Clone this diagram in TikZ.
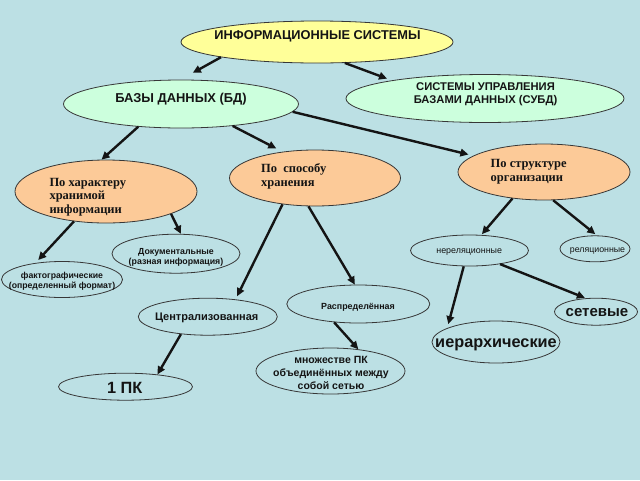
\documentclass[tikz,border=0pt]{standalone}
\usepackage{fontspec}
\setmainfont{Liberation Serif}
\setsansfont{Liberation Sans}
\usetikzlibrary{arrows.meta,shapes.geometric}
\definecolor{bgc}{RGB}{188,224,228}
\definecolor{yel}{RGB}{255,255,153}
\definecolor{grn}{RGB}{204,255,221}
\definecolor{org}{RGB}{252,202,152}
\definecolor{ink}{RGB}{20,20,20}
\begin{document}
\begin{tikzpicture}[x=1pt,y=-1pt,
  ell/.style={ellipse, draw=ink!85, line width=0.8pt, inner sep=0pt},
  con/.style={line width=2.4pt, draw=ink, -{Triangle[length=8pt,width=7.5pt]}},
  sbf/.style 2 args={font=\fontsize{#1}{#2}\selectfont\sffamily\bfseries, text=ink, inner sep=0pt},
  srf/.style 2 args={font=\fontsize{#1}{#2}\selectfont\rmfamily\bfseries, text=ink, inner sep=0pt},
  snf/.style 2 args={font=\fontsize{#1}{#2}\selectfont\sffamily, text=ink, inner sep=0pt},
]
\useasboundingbox (0,0) rectangle (640,480);
\fill[bgc] (0,0) rectangle (640,480);

% ellipses
\node[ell, fill=yel, minimum width=272pt, minimum height=42pt] (is) at (317,42) {};
\node[ell, fill=grn, minimum width=235pt, minimum height=48pt] (bd) at (181,104) {};
\node[ell, fill=grn, minimum width=278pt, minimum height=48pt] (subd) at (485,98.5) {};
\node[ell, fill=org, minimum width=182pt, minimum height=63pt] (ph) at (106,191.5) {};
\node[ell, fill=org, minimum width=171pt, minimum height=56pt] (ps) at (315,178) {};
\node[ell, fill=org, minimum width=172pt, minimum height=56pt] (str) at (544,172) {};
\node[ell, minimum width=128pt, minimum height=39pt] (doc) at (176,253.7) {};
\node[ell, minimum width=121pt, minimum height=36pt] (fakt) at (62,279.5) {};
\node[ell, minimum width=139pt, minimum height=37pt] (cent) at (207.8,316.7) {};
\node[ell, minimum width=143pt, minimum height=38pt] (raspr) at (358.3,304) {};
\node[ell, minimum width=118pt, minimum height=31pt] (nerel) at (469.5,250.5) {};
\node[ell, minimum width=70pt, minimum height=26pt] (rel) at (595,248.8) {};
\node[ell, minimum width=83pt, minimum height=27pt] (set) at (596,311.7) {};
\node[ell, minimum width=128pt, minimum height=42pt] (hier) at (496,342) {};
\node[ell, minimum width=149pt, minimum height=46pt] (mnozh) at (330.5,371) {};
\node[ell, minimum width=134pt, minimum height=27pt] (pk) at (125.5,386.7) {};

% connectors
\draw[con, shorten >=14pt] (is.189.5) -- (bd.91);
\draw[con, shorten >=5pt] (is.-37.3) -- (subd.169.9);
\draw[con] (bd.208) -- (ph.98);
\draw[con, shorten >=7pt] (bd.337.6) -- (ps.141.4);
\draw[con, shorten >=5pt] (bd.356.4) -- (str.167.4);
\draw[con, shorten >=4pt] (ph.223) -- (fakt.148.6);
\draw[con] (ph.341) -- (doc.76);
\draw[con, shorten >=3.5pt] (ps.219) -- (cent.32.2);
\draw[con] (ps.257) -- (raspr.100);
\draw[con, shorten >=1pt] (str.220) -- (nerel.53);
\draw[con, shorten >=2pt] (str.288.5) -- (rel.82.5);
\draw[con, shorten >=4pt] (nerel.250) -- (hier.164.3);
\draw[con, shorten >=1pt] (nerel.336.4) -- (set.127.8);
\draw[con] (cent.213) -- (pk.21.2);
\draw[con] (raspr.217.7) -- (mnozh.38.2);

% texts (base anchor = baseline of the last line)
\node[sbf={12.8}{14}, anchor=base] (isT) at (317.5,39) {ИНФОРМАЦИОННЫЕ СИСТЕМЫ};
\node[sbf={12.9}{14}, anchor=base] (bdT) at (181,102.7) {БАЗЫ ДАННЫХ (БД)};
\node[sbf={11.2}{13.3}, anchor=base, align=center] (subdT) at (485.5,103.3) {СИСТЕМЫ УПРАВЛЕНИЯ\\БАЗАМИ ДАННЫХ (СУБД)};
\node[srf={12.5}{13.6}, anchor=base west, align=left] (phT) at (49.3,213.3) {По характеру\\хранимой\\информации};
\node[srf={12.5}{14}, anchor=base west, align=left] (psT) at (261,186.7) {По\ \ способу\\хранения};
\node[srf={12.5}{14.4}, anchor=base west, align=left] (strT) at (490.5,181.7) {По структуре\\организации};
\node[sbf={8.8}{10}, anchor=base, align=center] (docT) at (176,264) {Документальные\\(разная информация)};
\node[sbf={8.7}{10}, anchor=base, align=center] (faktT) at (62,288.3) {фактографические\\(определенный формат)};
\node[sbf={11}{13}, anchor=base] (centT) at (206.7,320.7) {Централизованная};
\node[sbf={8.9}{11}, anchor=base] (rasprT) at (358,309.3) {Распределённая};
\node[snf={8.9}{10}, anchor=base] (nerelT) at (469.2,253.3) {нереляционные};
\node[snf={8.8}{10}, anchor=base] (relT) at (597.5,252.7) {реляционные};
\node[sbf={15}{17}, anchor=base] (setT) at (597,316.7) {сетевые};
\node[sbf={16.3}{18}, anchor=base] (hierT) at (496,347.3) {иерархические};
\node[sbf={10.5}{13}, anchor=base, align=center] (mnozhT) at (331,389.3) {множестве ПК\\объединённых между\\собой сетью};
\node[sbf={16.3}{18}, anchor=base] (pkT) at (124.7,393.3) {1 ПК};
\end{tikzpicture}
\end{document}
